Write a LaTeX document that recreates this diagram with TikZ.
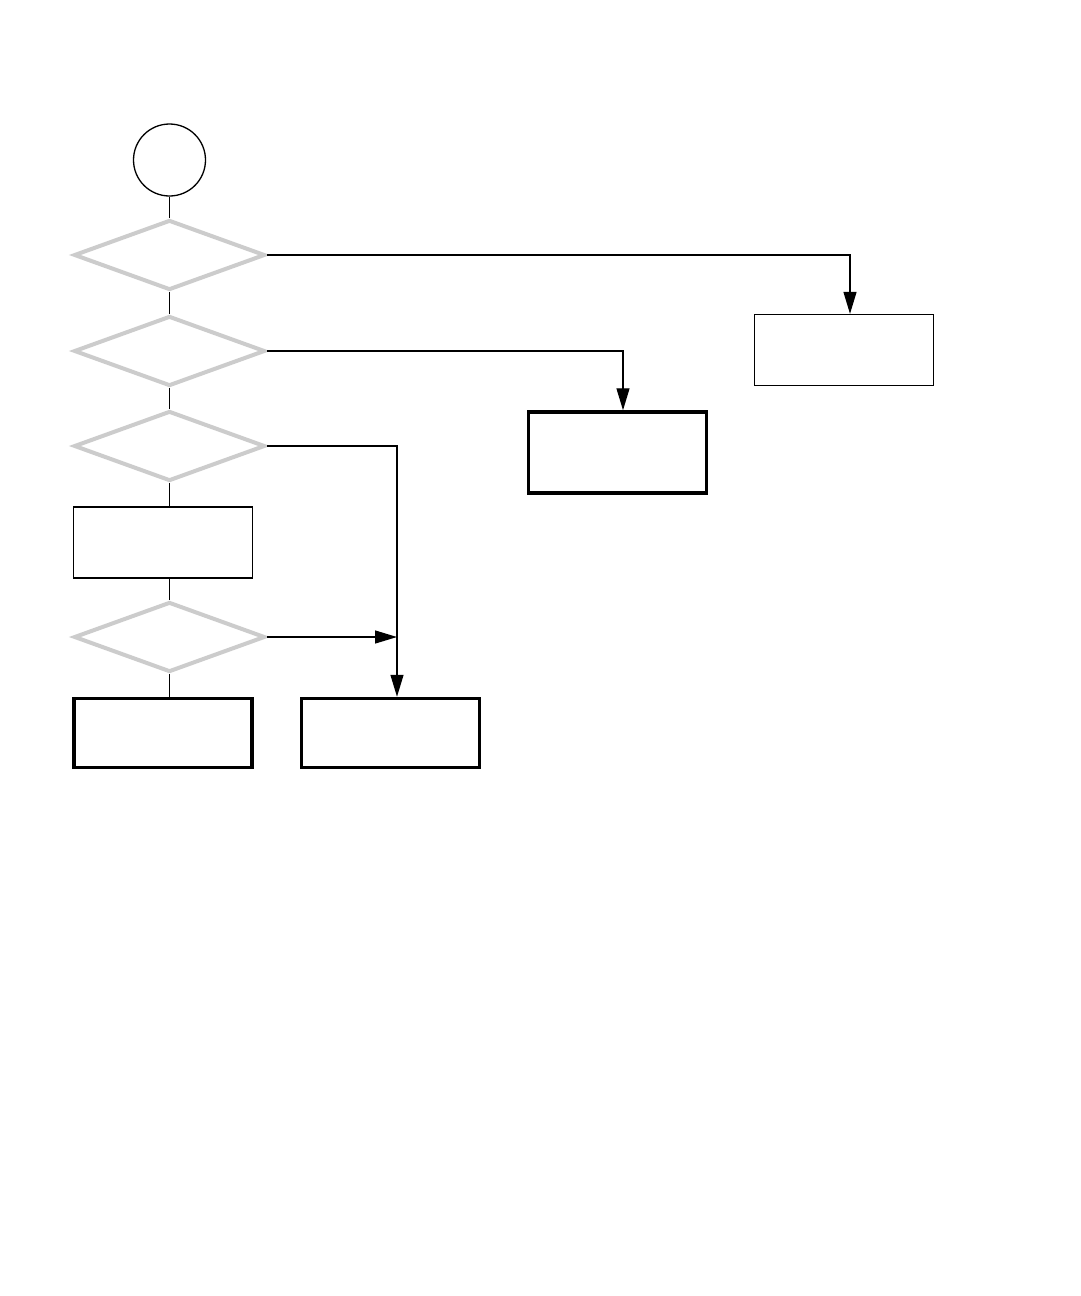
\documentclass[tikz,border=0pt]{standalone}
\usetikzlibrary{shapes.geometric,arrows.meta}
\definecolor{dgray}{HTML}{CCCCCC}
\begin{document}
\begin{tikzpicture}[x=1pt,y=-1pt,
  decision/.style={diamond,draw=dgray,line width=4pt,minimum width=191pt,minimum height=70pt,inner sep=0pt},
  thinbox/.style={rectangle,draw=black,line width=1.3pt,minimum width=179pt,minimum height=71pt,inner sep=0pt},
  thickbox/.style={rectangle,draw=black,line width=3.5pt,minimum width=178pt,minimum height=69pt,inner sep=0pt},
  startnode/.style={circle,draw=black,line width=1.3pt,minimum size=72pt,inner sep=0pt},
  conn/.style={draw=black,line width=1.3pt},
  arr/.style={conn,-{Triangle[length=22pt,width=13pt]}}]
\fill[white] (0,0) rectangle (1080,1296);
\useasboundingbox (0,0) rectangle (1080,1296);
\node[startnode] (s) at (169.5,160) {};
\node[decision] (d1) at (169.5,255) {};
\node[decision] (d2) at (169.5,351) {};
\node[decision] (d3) at (169.5,446) {};
\node[thinbox] (ra) at (163,542.5) {};
\node[decision] (d4) at (169.5,637) {};
\node[thickbox] (rb) at (163,733) {};
\node[thickbox] (rc) at (390.5,733) {};
\node[thickbox,minimum height=81pt] (rd) at (617.5,452.5) {};
\node[thinbox] (re) at (844,350) {};
\coordinate (j) at (397,637);
\draw[conn] (s.south) -- (d1.north);
\draw[conn] (d1.south) -- (d2.north);
\draw[conn] (d2.south) -- (d3.north);
\draw[conn] (d3.south) -- (d3.south |- ra.north);
\draw[conn] (d4.north |- ra.south) -- (d4.north);
\draw[conn] (d4.south) -- (d4.south |- rb.north);
\draw[arr] (d1.east) -| ([xshift=6pt]re.north);
\draw[arr] (d2.east) -| ([xshift=5.5pt]rd.north);
\draw[arr] (d3.east) -| (j |- rc.north);
\draw[arr] (d4.east) -- (j);
\end{tikzpicture}
\end{document}
